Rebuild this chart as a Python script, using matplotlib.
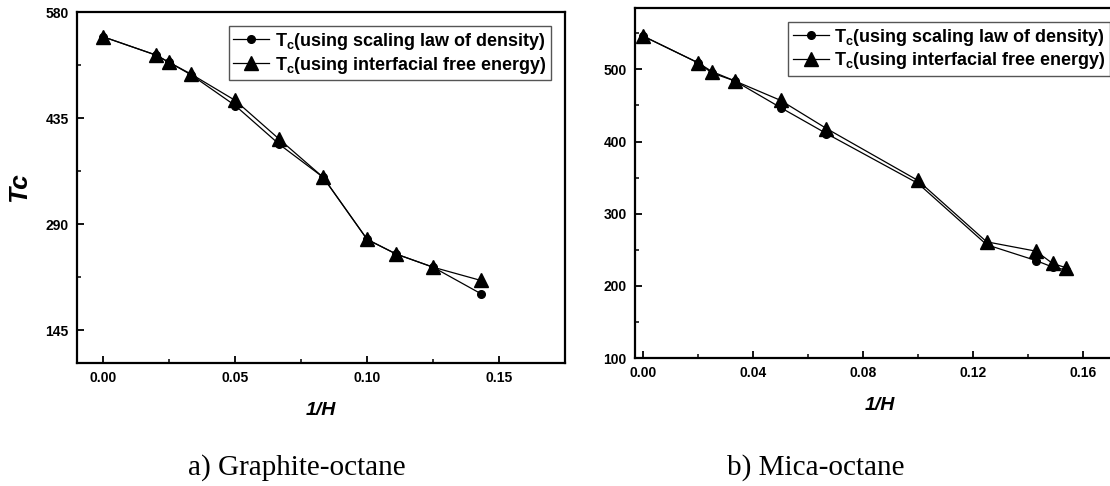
import matplotlib
matplotlib.use("Agg")
import matplotlib.pyplot as plt
from matplotlib.ticker import MultipleLocator, FixedLocator

# Tc versus inverse pore width, two substrates
inv_h_graphite = [0.0, 0.02, 0.025, 0.0333, 0.05, 0.0667, 0.0833, 0.1, 0.111, 0.125, 0.143]
tc_density_graphite = [546, 521, 511, 494, 452, 399, 354, 269, 249, 231, 195]
tc_energy_graphite = [546, 521, 511, 495, 459, 406, 354, 269, 249, 231, 213]

inv_h_mica = [0.0, 0.02, 0.025, 0.0333, 0.05, 0.0667, 0.1, 0.125, 0.143, 0.149, 0.154]
tc_density_mica = [546, 509, 495, 484, 447, 411, 342, 257, 235, 226, 222]
tc_energy_mica = [546, 509, 497, 484, 457, 418, 346, 261, 248, 231, 225]

legend_labels = ["T$_{\\mathregular{c}}$(using scaling law of density)",
                 "T$_{\\mathregular{c}}$(using interfacial free energy)"]
captions = ["a) Graphite-octane", "b) Mica-octane"]

plt.rcParams["font.family"] = ["Liberation Sans", "DejaVu Sans"]
plt.rcParams["mathtext.fontset"] = "custom"
plt.rcParams["mathtext.rm"] = "Liberation Sans:bold"

fig = plt.figure(figsize=(11.1, 4.86), dpi=100)
W, H = 1110.0, 486.0


def make_axes(left, right, top, bottom):
    return fig.add_axes([left / W, 1 - bottom / H, (right - left) / W, (bottom - top) / H])


def style(ax):
    for sp in ax.spines.values():
        sp.set_linewidth(1.6)
    ax.tick_params(which="both", direction="in", top=False, right=False)
    ax.tick_params(which="major", length=5, width=1.3, labelsize=10, pad=6)
    ax.tick_params(which="minor", length=3, width=1.1)
    for lab in ax.get_xticklabels() + ax.get_yticklabels():
        lab.set_fontweight("bold")


def draw(ax, x, y1, y2, loc, anchor):
    ax.plot(x, y1, color="black", lw=0.9, marker="o", ms=5.5, label=legend_labels[0])
    ax.plot(x, y2, color="black", lw=0.9, marker="^", ms=10, label=legend_labels[1])
    leg = ax.legend(loc=loc, bbox_to_anchor=anchor,
                    prop={"weight": "bold", "size": 13}, handlelength=2.0,
                    handletextpad=0.3, borderpad=0.25, labelspacing=0.15,
                    fancybox=False, framealpha=1)
    leg.get_frame().set_edgecolor("#555555")
    leg.get_frame().set_linewidth(1.0)


# a) graphite
ax1 = make_axes(77, 565, 12, 363)
draw(ax1, inv_h_graphite, tc_density_graphite, tc_energy_graphite,
     "upper right", (0.99, 0.985))
ax1.set_xlim(-0.01, 0.175)
ax1.set_ylim(100, 580)
ax1.xaxis.set_major_locator(FixedLocator([0.0, 0.05, 0.10, 0.15]))
ax1.xaxis.set_minor_locator(MultipleLocator(0.025))
ax1.yaxis.set_major_locator(FixedLocator([145, 290, 435, 580]))
ax1.yaxis.set_minor_locator(FixedLocator([217.5, 362.5, 507.5]))
ax1.set_xticklabels(["0.00", "0.05", "0.10", "0.15"])
ax1.set_yticklabels(["145", "290", "435", "580"])
style(ax1)
ax1.set_ylabel("Tc", fontsize=19, fontweight="bold", style="italic", labelpad=10)
ax1.set_xlabel("1/H", fontsize=14, fontweight="bold", style="italic", labelpad=12)

# b) mica
ax2 = make_axes(635, 1124, 8, 358)
draw(ax2, inv_h_mica, tc_density_mica, tc_energy_mica,
     "upper left", ((779 - 635) / (1124 - 635), 0.985))
ax2.set_xlim(-0.003, 0.175)
ax2.set_ylim(100, 585)
ax2.xaxis.set_major_locator(FixedLocator([0.0, 0.04, 0.08, 0.12, 0.16]))
ax2.xaxis.set_minor_locator(MultipleLocator(0.02))
ax2.yaxis.set_major_locator(FixedLocator([100, 200, 300, 400, 500]))
ax2.yaxis.set_minor_locator(MultipleLocator(50))
ax2.set_xticklabels(["0.00", "0.04", "0.08", "0.12", "0.16"])
style(ax2)
ax2.set_xlabel("1/H", fontsize=14, fontweight="bold", style="italic", labelpad=12)

fig.text(297 / W, 1 - 468 / H, captions[0], ha="center", va="center",
         fontsize=21, family="Liberation Serif")
fig.text(816 / W, 1 - 468 / H, captions[1], ha="center", va="center",
         fontsize=21, family="Liberation Serif")

fig.savefig("out.png", dpi=100)
